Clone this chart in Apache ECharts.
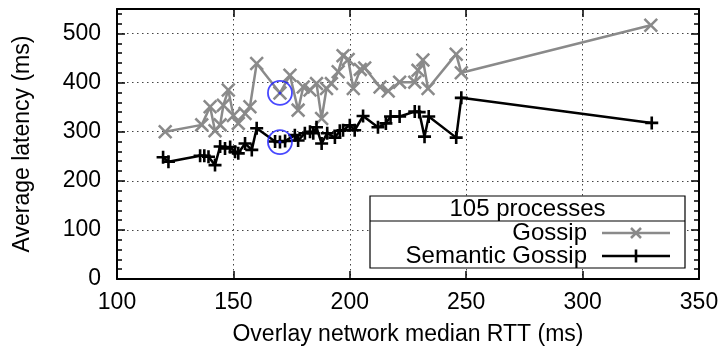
<!DOCTYPE html>
<html>
<head>
<meta charset="utf-8">
<script src="https://cdn.jsdelivr.net/npm/echarts@6/dist/echarts.min.js"></script>
<style>
  html, body { margin: 0; padding: 0; background: #fff; }
  #chart { width: 724px; height: 354px; }
</style>
</head>
<body>
<div id="chart"></div>
<script>
// Overlay median RTT (ms) vs. average latency (ms), 105 processes
const gossip = [
  [120.7, 300], [136.4, 314], [140, 351], [142.1, 302], [144.3, 314],
  [145.7, 354], [147.8, 385], [150, 333], [152.1, 317], [155, 337],
  [157.1, 351], [160, 439], [170, 379], [174.3, 415], [177.8, 344],
  [180, 391], [182.9, 385], [185.7, 398], [187.9, 327], [190, 388],
  [192.1, 398], [195, 422], [197.1, 455], [199.3, 447], [201.5, 388],
  [204.5, 427], [206.4, 430], [213, 391], [216.5, 383], [221.4, 401],
  [227.9, 401], [229.3, 425], [231.4, 446], [233.6, 388], [245.7, 458],
  [247.9, 420], [329.3, 517]
];
const semanticGossip = [
  [119.8, 248], [122.1, 239], [135.7, 251], [137.5, 251], [139.3, 249],
  [142.1, 232], [144.3, 270], [146.4, 266], [148.6, 269], [150.7, 259],
  [152.1, 256], [155, 276], [157.9, 263], [160, 307], [167.9, 280],
  [170, 279], [172.2, 281], [176.4, 293], [177.8, 282], [180.7, 297],
  [182.9, 300], [184.3, 297], [185.7, 309], [187.9, 276], [190.3, 297],
  [193.6, 288], [195.7, 302], [197.1, 303], [200, 313], [202.1, 303],
  [205.7, 332], [212.1, 309], [215.5, 317], [217.5, 331], [221.4, 331],
  [227.9, 341], [229.8, 340], [232.1, 290], [233.9, 331], [245.7, 288],
  [247.9, 369], [329.7, 318]
];
// points picked out with a ring (index into each series)
const ringedGossip = 12;
const ringedSemantic = 15;

const seriesNames = ['Gossip', 'Semantic Gossip'];
const legendTitle = '105 processes';
const xTicks = { min: 100, max: 350, step: 50 };
const yTicks = { min: 0, max: 550, step: 100, minorStep: 20 };

const FONT = 'Liberation Sans, Arial, Helvetica, sans-serif';
const AXIS_FS = 23;
const LEG_FS = 24;
const GRAY = '#8a8a8a';
const BLACK = '#000000';
const BLUE = '#1a1aff';
const PLUS = 'path://M4.3,0H5.7V4.3H10V5.7H5.7V10H4.3V5.7H0V4.3H4.3Z';
const PLUS_BOLD = 'path://M4,0H6V4H10V6H6V10H4V6H0V4H4Z';

const chart = echarts.init(document.getElementById('chart'), null, { renderer: 'canvas' });

function xAxisDef(pos, main) {
  return {
    type: 'value', position: pos, min: xTicks.min, max: xTicks.max, interval: xTicks.step,
    name: main ? 'Overlay network median RTT (ms)' : '',
    nameLocation: 'middle', nameGap: 44,
    nameTextStyle: { fontFamily: FONT, fontSize: AXIS_FS, color: '#000' },
    axisLine: { show: true, onZero: false, lineStyle: { color: '#000', width: 2 } },
    axisTick: { show: true, inside: true, length: 8, lineStyle: { color: '#000', width: 1.5 } },
    axisLabel: { show: main, margin: 12, fontFamily: FONT, fontSize: AXIS_FS, color: '#000' },
    splitLine: { show: main, lineStyle: { color: '#444', width: 1, type: [1.5, 3.5] } }
  };
}
function yAxisDef(pos, main, minor) {
  return {
    type: 'value', position: pos, min: yTicks.min, max: yTicks.max,
    interval: minor ? yTicks.minorStep : yTicks.step,
    name: main ? 'Average latency (ms)' : '',
    nameLocation: 'middle', nameGap: 83,
    nameTextStyle: { fontFamily: FONT, fontSize: AXIS_FS, color: '#000' },
    axisLine: { show: !minor, onZero: false, lineStyle: { color: '#000', width: 2 } },
    axisTick: { show: true, inside: true, length: minor ? 5 : 8, lineStyle: { color: '#000', width: 1.5 } },
    axisLabel: { show: main, margin: 16, showMaxLabel: false, fontFamily: FONT, fontSize: AXIS_FS, color: '#000' },
    splitLine: { show: main, lineStyle: { color: '#444', width: 1, type: [1.5, 3.5] } }
  };
}

const legendX0 = 370, legendY0 = 196, legendW = 315, legendH = 72;
const sampleX1 = 602, sampleX2 = 670, sampleMid = 636;
const rowY = [233, 256];

chart.setOption({
  animation: false,
  backgroundColor: '#fff',
  grid: { left: 117, right: 25, top: 9, bottom: 75, containLabel: false },
  xAxis: [xAxisDef('bottom', true), xAxisDef('top', false)],
  yAxis: [
    yAxisDef('left', true, false),
    yAxisDef('left', false, true),
    yAxisDef('right', false, false),
    yAxisDef('right', false, true)
  ],
  series: [
    {
      name: seriesNames[0], type: 'line', data: gossip, z: 3,
      symbol: PLUS, symbolRotate: 45, symbolSize: 18, showAllSymbol: true,
      lineStyle: { color: GRAY, width: 2.5 }, itemStyle: { color: GRAY }
    },
    {
      name: seriesNames[1], type: 'line', data: semanticGossip, z: 4,
      symbol: PLUS_BOLD, symbolSize: 13, showAllSymbol: true,
      lineStyle: { color: BLACK, width: 2.5 }, itemStyle: { color: BLACK }
    },
    {
      type: 'scatter', z: 6, silent: true,
      data: [gossip[ringedGossip], semanticGossip[ringedSemantic]],
      symbol: 'circle', symbolSize: 24,
      itemStyle: { color: 'rgba(0,0,0,0)', borderColor: BLUE, borderWidth: 1.8 }
    },
    {
      type: 'scatter', z: 7, silent: true,
      data: [gossip[ringedGossip], semanticGossip[ringedSemantic]],
      symbol: 'circle', symbolSize: 3, itemStyle: { color: BLUE }
    }
  ],
  graphic: [
    { type: 'rect', z: 10, shape: { x: legendX0, y: legendY0, width: legendW, height: legendH },
      style: { fill: '#fff', stroke: '#000', lineWidth: 1.2 } },
    { type: 'line', z: 11, shape: { x1: legendX0, y1: 221, x2: legendX0 + legendW, y2: 221 },
      style: { stroke: '#000', lineWidth: 1.2 } },
    { type: 'text', z: 11, x: legendX0 + legendW / 2, y: 209,
      style: { text: legendTitle, font: LEG_FS + 'px ' + FONT, fill: '#000', align: 'center', verticalAlign: 'middle' } },
    { type: 'text', z: 11, x: 587, y: rowY[0],
      style: { text: seriesNames[0], font: LEG_FS + 'px ' + FONT, fill: '#000', align: 'right', verticalAlign: 'middle' } },
    { type: 'text', z: 11, x: 587, y: rowY[1],
      style: { text: seriesNames[1], font: LEG_FS + 'px ' + FONT, fill: '#000', align: 'right', verticalAlign: 'middle' } },
    // Gossip sample: line with a cross
    { type: 'line', z: 11, shape: { x1: sampleX1, y1: rowY[0], x2: sampleX2, y2: rowY[0] }, style: { stroke: GRAY, lineWidth: 2.5 } },
    { type: 'line', z: 12, shape: { x1: sampleMid - 5, y1: rowY[0] - 5, x2: sampleMid + 5, y2: rowY[0] + 5 }, style: { stroke: GRAY, lineWidth: 2.5 } },
    { type: 'line', z: 12, shape: { x1: sampleMid + 5, y1: rowY[0] - 5, x2: sampleMid - 5, y2: rowY[0] + 5 }, style: { stroke: GRAY, lineWidth: 2.5 } },
    // Semantic Gossip sample: line with a plus
    { type: 'line', z: 11, shape: { x1: sampleX1, y1: rowY[1], x2: sampleX2, y2: rowY[1] }, style: { stroke: BLACK, lineWidth: 2.5 } },
    { type: 'line', z: 12, shape: { x1: sampleMid, y1: rowY[1] - 6.5, x2: sampleMid, y2: rowY[1] + 6.5 }, style: { stroke: BLACK, lineWidth: 2.6 } }
  ]
});
</script>
</body>
</html>
